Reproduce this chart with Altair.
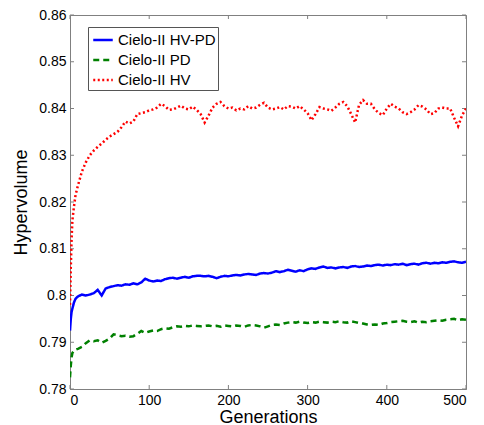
import altair as alt
import pandas as pd

gens = [0, 1, 2, 3, 5, 7, 10, 15, 20, 25, 30, 35, 40, 45, 50, 55, 60, 65, 70, 75,
        80, 85, 90, 95, 100, 105, 110, 115, 120, 125, 130, 135, 140, 145, 150,
        155, 160, 165, 170, 175, 180, 185, 190, 195, 200, 205, 210, 215, 220,
        225, 230, 235, 240, 245, 250, 255, 260, 265, 270, 275, 280, 285, 290,
        295, 300, 305, 310, 315, 320, 325, 330, 335, 340, 345, 350, 355, 360,
        365, 370, 375, 380, 385, 390, 395, 400, 405, 410, 415, 420, 425, 430,
        435, 440, 445, 450, 455, 460, 465, 470, 475, 480, 485, 490, 495, 500]

hv = [0.798, 0.806, 0.812, 0.816, 0.819, 0.8215, 0.8235, 0.8265, 0.8285, 0.830,
      0.831, 0.8318, 0.8325, 0.8333, 0.834, 0.8345, 0.835, 0.836, 0.8372, 0.8368,
      0.8372, 0.8388, 0.8390, 0.8392, 0.8396, 0.8398, 0.8402, 0.8410, 0.8405, 0.8397,
      0.8398, 0.8402, 0.8406, 0.8400, 0.8398, 0.8404, 0.8397, 0.8388, 0.8370, 0.8385,
      0.8402, 0.8410, 0.8414, 0.8405, 0.8400, 0.8402, 0.8396, 0.8400, 0.8398, 0.8405,
      0.8400, 0.8402, 0.8408, 0.8412, 0.8402, 0.8398, 0.8400, 0.8403, 0.8398, 0.8405,
      0.8404, 0.8400, 0.8405, 0.8398, 0.8390, 0.8375, 0.8388, 0.8403, 0.8400, 0.8398,
      0.8395, 0.8402, 0.8410, 0.8414, 0.8405, 0.8388, 0.8370, 0.8408, 0.8418, 0.8410,
      0.8410, 0.8398, 0.8390, 0.8386, 0.8400, 0.8410, 0.8404, 0.8400, 0.8392, 0.8388,
      0.8392, 0.8398, 0.8407, 0.8404, 0.8398, 0.8388, 0.8390, 0.8400, 0.8402, 0.8400,
      0.8400, 0.8380, 0.8362, 0.8385, 0.8400]

hvpd = [0.7925, 0.7950, 0.7965, 0.7972, 0.7985, 0.7993, 0.7998, 0.8002, 0.8000, 0.8002,
        0.8005, 0.8012, 0.8000, 0.8015, 0.8018, 0.8020, 0.8022, 0.8021, 0.8024, 0.8023,
        0.8026, 0.8024, 0.8028, 0.8036, 0.8032, 0.8030, 0.8032, 0.8031, 0.8035, 0.8037,
        0.8038, 0.8036, 0.8038, 0.8040, 0.8038, 0.8041, 0.8042, 0.8042, 0.8041, 0.8042,
        0.8040, 0.8037, 0.8040, 0.8042, 0.8041, 0.8043, 0.8044, 0.8043, 0.8045, 0.8046,
        0.8045, 0.8044, 0.8047, 0.8048, 0.8047, 0.8049, 0.8052, 0.8050, 0.8052, 0.8055,
        0.8053, 0.8051, 0.8054, 0.8052, 0.8056, 0.8058, 0.8057, 0.8060, 0.8062, 0.8059,
        0.8060, 0.8058, 0.8060, 0.8061, 0.8059, 0.8062, 0.8063, 0.8061, 0.8062, 0.8064,
        0.8063, 0.8065, 0.8066, 0.8064, 0.8066, 0.8065, 0.8067, 0.8066, 0.8068, 0.8065,
        0.8067, 0.8068, 0.8066, 0.8069, 0.8070, 0.8068, 0.8070, 0.8069, 0.8071, 0.8070,
        0.8072, 0.8073, 0.8071, 0.8070, 0.8072]

pd_vals = [0.7825, 0.7850, 0.7868, 0.7877, 0.7882, 0.7884, 0.7886, 0.7890, 0.7898, 0.7904,
           0.7902, 0.7904, 0.7899, 0.7903, 0.7908, 0.7917, 0.7915, 0.7913, 0.7914, 0.7912,
           0.7913, 0.7918, 0.7924, 0.7920, 0.7923, 0.7925, 0.7924, 0.7928, 0.7930, 0.7929,
           0.7932, 0.7934, 0.7933, 0.7935, 0.7934, 0.7936, 0.7935, 0.7934, 0.7935, 0.7936,
           0.7934, 0.7935, 0.7933, 0.7936, 0.7935, 0.7934, 0.7936, 0.7935, 0.7933, 0.7936,
           0.7937, 0.7936, 0.7934, 0.7931, 0.7934, 0.7937, 0.7938, 0.7937, 0.7940, 0.7942,
           0.7943, 0.7942, 0.7944, 0.7942, 0.7941, 0.7943, 0.7942, 0.7944, 0.7943, 0.7942,
           0.7944, 0.7943, 0.7945, 0.7943, 0.7942, 0.7945, 0.7943, 0.7941, 0.7940, 0.7938,
           0.7937, 0.7938, 0.7937, 0.7940, 0.7941, 0.7943, 0.7944, 0.7945, 0.7946, 0.7944,
           0.7943, 0.7945, 0.7942, 0.7944, 0.7943, 0.7945, 0.7946, 0.7947, 0.7946, 0.7948,
           0.7949, 0.7950, 0.7947, 0.7949, 0.7948]

series_names = ["Cielo-II HV-PD", "Cielo-II PD", "Cielo-II HV"]
series_colors = ["#0000ff", "#008000", "#ff0000"]
series_dash = [[1, 0], [6, 4], [2, 2.5]]

x_ticks = [0, 100, 200, 300, 400, 500]
y_ticks = [0.78, 0.79, 0.80, 0.81, 0.82, 0.83, 0.84, 0.85, 0.86]

rows = []
for name, vals in zip(series_names, [hvpd, pd_vals, hv]):
    for g, v in zip(gens, vals):
        rows.append({"gen": g, "val": v, "series": name})
df = pd.DataFrame(rows)

W, H = 396, 374
xscale = alt.Scale(domain=[0, 500], nice=False, zero=False)
yscale = alt.Scale(domain=[0.78, 0.86], nice=False, zero=False)

leg = alt.Legend(
    title=None, orient="none", legendX=18, legendY=12,
    symbolType="stroke", symbolSize=380, symbolStrokeWidth=2.5,
    labelFont="Liberation Sans", labelFontSize=15, labelColor="black",
    fillColor="white", strokeColor="#555555", padding=2, rowPadding=1,
    labelOffset=4, symbolOffset=2,
)

lines = alt.Chart(df).mark_line(strokeWidth=2.5, clip=True).encode(
    x=alt.X("gen:Q", scale=xscale,
            axis=alt.Axis(title="Generations", values=x_ticks, ticks=False, grid=False,
                          labelPadding=4, titlePadding=1)),
    y=alt.Y("val:Q", scale=yscale,
            axis=alt.Axis(title="Hypervolume", values=y_ticks, ticks=False, grid=False,
                          format=".2~f", labelPadding=4, titlePadding=8)),
    color=alt.Color("series:N", scale=alt.Scale(domain=series_names, range=series_colors),
                    legend=leg),
    strokeDash=alt.StrokeDash("series:N", scale=alt.Scale(domain=series_names, range=series_dash),
                              legend=leg),
    order=alt.Order("gen:Q"),
)

xt = pd.DataFrame({"t": x_ticks})
yt = pd.DataFrame({"t": y_ticks})
tick_col = "#808080"
bt = alt.Chart(xt).mark_rule(color=tick_col, strokeWidth=1).encode(
    x=alt.X("t:Q", scale=xscale), y=alt.value(H), y2=alt.value(H - 4))
tt = alt.Chart(xt).mark_rule(color=tick_col, strokeWidth=1).encode(
    x=alt.X("t:Q", scale=xscale), y=alt.value(0), y2=alt.value(4))
lt = alt.Chart(yt).mark_rule(color=tick_col, strokeWidth=1).encode(
    y=alt.Y("t:Q", scale=yscale), x=alt.value(0), x2=alt.value(4))
rt = alt.Chart(yt).mark_rule(color=tick_col, strokeWidth=1).encode(
    y=alt.Y("t:Q", scale=yscale), x=alt.value(W), x2=alt.value(W - 4))

chart = alt.layer(bt, tt, lt, rt, lines).properties(
    width=W, height=H,
    autosize=alt.AutoSizeParams(type="none"),
    padding={"left": 62, "top": 7, "right": 10, "bottom": 36},
    background="white",
).configure_view(stroke=tick_col, strokeWidth=1).configure_axis(
    domainColor=tick_col, labelFont="Liberation Sans", labelFontSize=14,
    labelColor="black", titleFont="Liberation Sans", titleFontSize=18,
    titleColor="black", titleFontWeight="normal",
)

chart.save("out.html", embed_options={"renderer": "svg", "actions": False})
